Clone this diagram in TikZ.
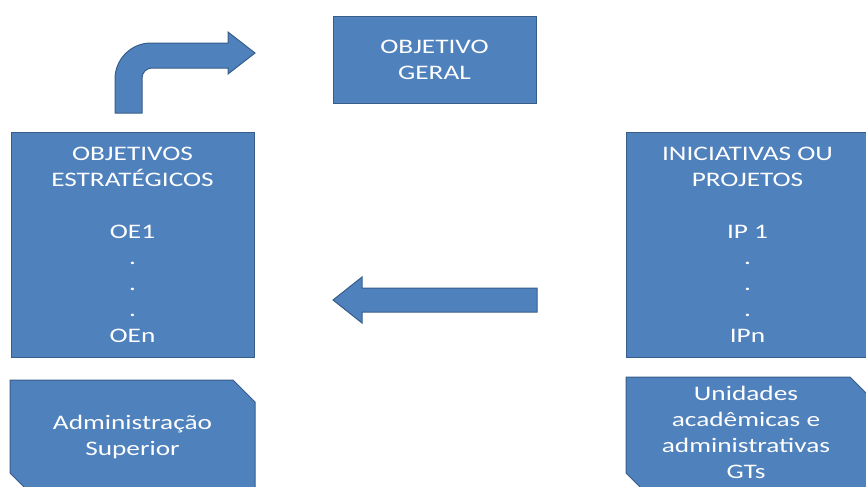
\documentclass[tikz,border=0pt]{standalone}
\usepackage{fontspec}
\setmainfont{Carlito}[FakeStretch=1.32]
\definecolor{boxblue}{RGB}{79,129,189}
\definecolor{boxline}{RGB}{56,93,138}
\tikzset{
  blockbox/.style={draw=boxline,fill=boxblue,line width=0.75pt,inner sep=0pt,align=center,text=white,font=\fontsize{15.5}{19.5}\selectfont},
  blockshape/.style={draw=boxline,fill=boxblue,line width=0.75pt},
  boxtext/.style={inner sep=0pt,align=center,text=white,font=\fontsize{15.5}{19.5}\selectfont}
}

\begin{document}
\begin{tikzpicture}[x=0.75pt,y=0.75pt,yscale=-1,xscale=1]
\useasboundingbox (0,0) rectangle (866,486);

% Shape: Rectangle
\node (geral) [blockbox,minimum width=152.25pt,minimum height=65.25pt] at (434.5,59.5) {OBJETIVO\\GERAL};
% Shape: Rectangle
\node (estrat) [blockbox,minimum width=182.25pt,minimum height=168.75pt] at (132.5,244.5) {OBJETIVOS\\ESTRATÉGICOS\\\mbox{}\\OE1\\.\\.\\.\\OEn};
% Shape: Rectangle
\node (inic) [blockbox,minimum width=182.25pt,minimum height=168.75pt] at (747.5,244.5) {INICIATIVAS OU\\PROJETOS\\\mbox{}\\IP 1\\.\\.\\.\\IPn};

% Shape: Snip Diagonal Corner Rectangle
\draw [blockshape] (10,380) -- (233,380) -- (255,402) -- (255,495) -- (32,495) -- (10,473) -- cycle ;
% Shape: Snip Diagonal Corner Rectangle
\draw [blockshape] (626,377) -- (850,377) -- (872,399) -- (872,495) -- (648,495) -- (626,473) -- cycle ;

% Shape: Bent Arrow
\draw [blockshape] (115,113) -- (115,79) .. controls (115,59.1) and (131.1,43) .. (151,43) -- (228,43) -- (228,32) -- (255,53) -- (228,74) -- (228,68) -- (152,68) .. controls (146.5,68) and (142,72.5) .. (142,78) -- (142,113) -- cycle ;
% Shape: Left Arrow
\draw [blockshape] (537,288) -- (362,288) -- (362,277) -- (333,300) -- (362,323) -- (362,312) -- (537,312) -- cycle ;

% Text Node
\node (admin) [boxtext] at (132.5,437) {Administração\\Superior};
% Text Node
\node (unid) [boxtext] at (746,432) {Unidades\\acadêmicas e\\administrativas\\GTs};
\end{tikzpicture}
\end{document}
